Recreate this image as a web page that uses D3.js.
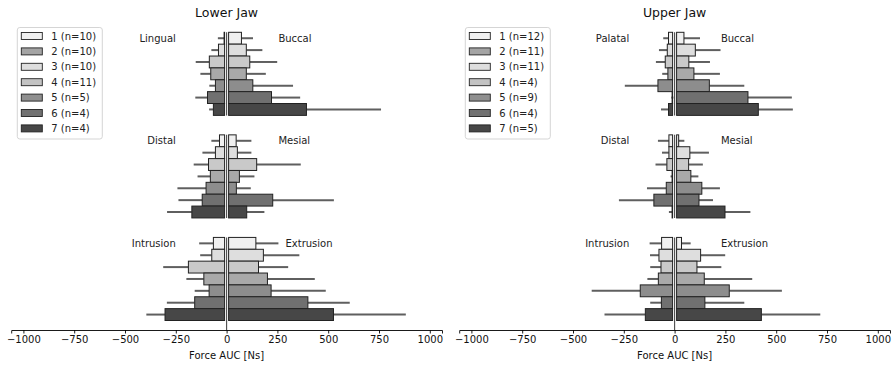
<!DOCTYPE html>
<html>
<head>
<meta charset="utf-8">
<script src="https://cdn.jsdelivr.net/npm/d3@7/dist/d3.min.js"></script>
<style>
  html, body { margin: 0; padding: 0; background: #fff; }
  svg { display: block; font-family: "DejaVu Sans", sans-serif; }
</style>
</head>
<body>
<svg id="chart" width="895" height="366"></svg>
<script>
// ---- data -------------------------------------------------------------
const categories = ["1", "2", "3", "4", "5", "6", "7"];
const lowerN = [10, 10, 10, 11, 5, 4, 4];
const upperN = [12, 11, 11, 4, 9, 4, 5];
const tickValues = [-1000, -750, -500, -250, 0, 250, 500, 750, 1000];

const lowerDirections = [["Lingual", "Buccal"], ["Distal", "Mesial"], ["Intrusion", "Extrusion"]];
const upperDirections = [["Palatal", "Buccal"], ["Distal", "Mesial"], ["Intrusion", "Extrusion"]];

// mean force AUC per category (negative side / positive side) and its SD
const lowerLingual      = [-12, -40, -85, -78, -55, -94, -65];
const lowerLingualSD    = [31, 35, 67, 51, 30, 60, 21];
const lowerBuccal       = [73, 97, 114, 97, 129, 221, 393];
const lowerBuccalSD     = [57, 79, 135, 96, 198, 141, 367];
const lowerDistal       = [-35, -55, -89, -80, -101, -120, -171];
const lowerDistalSD     = [40, 64, 73, 63, 141, 117, 122];
const lowerMesial       = [47, 53, 148, 63, 48, 227, 99];
const lowerMesialSD     = [75, 69, 217, 74, 71, 301, 87];
const lowerIntrusion    = [-65, -73, -188, -112, -86, -157, -303];
const lowerIntrusionSD  = [70, 57, 124, 86, 71, 137, 92];
const lowerExtrusion    = [144, 181, 157, 201, 219, 400, 526];
const lowerExtrusionSD  = [111, 177, 146, 233, 269, 206, 356];

const upperPalatal      = [-30, -36, -46, -33, -82, -6, -30];
const upperPalatalSD    = [26, 41, 46, 28, 163, 10, 37];
const upperBuccal       = [46, 102, 70, 95, 171, 361, 412];
const upperBuccalSD     = [79, 124, 104, 128, 172, 216, 170];
const upperDistal       = [-28, -28, -38, -8, -41, -102, -10];
const upperDistalSD     = [54, 34, 56, 12, 95, 172, 18];
const upperMesial       = [20, 75, 69, 80, 134, 120, 248];
const upperMesialSD     = [28, 94, 70, 37, 89, 69, 125];
const upperIntrusion    = [-64, -77, -67, -80, -169, -65, -144];
const upperIntrusionSD  = [59, 44, 53, 54, 239, 55, 201];
const upperExtrusion    = [34, 128, 110, 146, 269, 149, 427];
const upperExtrusionSD  = [45, 121, 120, 236, 259, 194, 290];

// ---- styles -----------------------------------------------------------
const barColors    = ["#f0f0f0", "#dedede", "#c9c9c9", "#a9a9a9", "#8d8d8d", "#707070", "#474747"];
const legendColors = ["#f0f0f0", "#a4a4a4", "#dedede", "#c3c3c3", "#8f8f8f", "#717171", "#474747"];

const svg = d3.select("#chart");
const pxPerUnit = 0.2032;
const halfDomain = 1060;
const axisY = 330;
const zeroGap = 2;

const groupY = d3.scaleBand().domain([0, 1, 2]).range([32.3, 320.5]).paddingInner(0.19);
const barY = d3.scaleBand().domain(categories).range([0, groupY.bandwidth()]).padding(0);

function drawPanel(cfg) {
  const x = d3.scaleLinear()
    .domain([-halfDomain, halfDomain])
    .range([cfg.zero - halfDomain * pxPerUnit, cfg.zero + halfDomain * pxPerUnit]);
  const x0 = x(0);
  const g = svg.append("g");

  // title
  g.append("text")
    .attr("x", x0).attr("y", 17)
    .attr("text-anchor", "middle")
    .attr("font-size", 12.5).attr("fill", "#111")
    .text(cfg.title);

  cfg.groups.forEach((grp, gi) => {
    const gy = groupY(gi);
    const rows = categories.map((c, i) => ({
      c, i,
      neg: grp.neg[i], negSD: grp.negSD[i],
      pos: grp.pos[i], posSD: grp.posSD[i]
    }));
    const gg = g.append("g").attr("transform", `translate(0,${gy})`);

    // zero line for this group (the last one runs down to the axis)
    const isLast = gi === cfg.groups.length - 1;
    gg.append("line")
      .attr("x1", x0).attr("x2", x0)
      .attr("y1", 0)
      .attr("y2", isLast ? axisY - gy : groupY.bandwidth())
      .attr("stroke", "#4a4a4a").attr("stroke-width", 1.1);

    // error whiskers (behind bars)
    gg.selectAll("line.eneg").data(rows).join("line")
      .attr("x1", d => x(d.neg)).attr("x2", d => x(d.neg - d.negSD))
      .attr("y1", d => barY(d.c) + barY.bandwidth() / 2)
      .attr("y2", d => barY(d.c) + barY.bandwidth() / 2)
      .attr("stroke", "#5f5f5f").attr("stroke-width", 2);
    gg.selectAll("line.epos").data(rows).join("line")
      .attr("x1", d => x(d.pos)).attr("x2", d => x(d.pos + d.posSD))
      .attr("y1", d => barY(d.c) + barY.bandwidth() / 2)
      .attr("y2", d => barY(d.c) + barY.bandwidth() / 2)
      .attr("stroke", "#5f5f5f").attr("stroke-width", 2);

    // negative-side bars
    gg.selectAll("rect.neg").data(rows).join("rect")
      .attr("x", d => Math.min(x(d.neg), x0 - zeroGap - 0.5))
      .attr("width", d => Math.max(0.5, x0 - zeroGap - x(d.neg)))
      .attr("y", d => barY(d.c))
      .attr("height", barY.bandwidth())
      .attr("fill", d => barColors[d.i])
      .attr("stroke", "#222").attr("stroke-width", 1);
    // positive-side bars
    gg.selectAll("rect.pos").data(rows).join("rect")
      .attr("x", x0 + zeroGap)
      .attr("width", d => Math.max(0.5, x(d.pos) - x0 - zeroGap))
      .attr("y", d => barY(d.c))
      .attr("height", barY.bandwidth())
      .attr("fill", d => barColors[d.i])
      .attr("stroke", "#222").attr("stroke-width", 1);

    // direction labels beside the first bar
    const ly = barY(categories[0]) + barY.bandwidth() / 2;
    gg.append("text")
      .attr("x", x(cfg.labelPos[gi][0])).attr("y", ly)
      .attr("dy", "0.35em").attr("text-anchor", "end")
      .attr("font-size", 10).attr("fill", "#222")
      .text(cfg.directions[gi][0]);
    gg.append("text")
      .attr("x", x(cfg.labelPos[gi][1])).attr("y", ly)
      .attr("dy", "0.35em").attr("text-anchor", "start")
      .attr("font-size", 10).attr("fill", "#222")
      .text(cfg.directions[gi][1]);
  });

  // x axis
  const ax = g.append("g")
    .attr("transform", `translate(0,${axisY})`)
    .call(d3.axisBottom(x).tickValues(tickValues).tickFormat(d3.format("d")).tickSizeOuter(0).tickSize(3.5).tickPadding(2.5));
  ax.select(".domain").attr("stroke", "#000").attr("stroke-width", 0.9);
  ax.selectAll(".tick line").attr("stroke", "#000").attr("stroke-width", 0.9);
  ax.selectAll(".tick text").attr("font-size", 10).attr("fill", "#111")
    .attr("font-family", "DejaVu Sans, sans-serif");

  g.append("text")
    .attr("x", x0).attr("y", 359)
    .attr("text-anchor", "middle")
    .attr("font-size", 10).attr("fill", "#111")
    .text("Force AUC [Ns]");

  // legend
  const lx = x0 - 209.3, ly0 = 27.5;
  const lg = g.append("g");
  lg.append("rect")
    .attr("x", lx).attr("y", ly0).attr("width", 85).attr("height", 111.5)
    .attr("rx", 2.5).attr("fill", "#fff").attr("stroke", "#d0d0d0").attr("stroke-width", 0.9);
  const ent = lg.selectAll("g.entry").data(categories).join("g")
    .attr("transform", (d, i) => `translate(${lx + 4},${ly0 + 8.5 + i * 15.4})`);
  ent.append("rect")
    .attr("x", 0).attr("y", -3.5).attr("width", 21).attr("height", 7)
    .attr("fill", (d, i) => legendColors[i])
    .attr("stroke", "#222").attr("stroke-width", 0.9);
  ent.append("text")
    .attr("x", 30).attr("y", 0).attr("dy", "0.35em")
    .attr("font-size", 10).attr("fill", "#222")
    .text((d, i) => `${d} (n=${cfg.n[i]})`);
}

drawPanel({
  title: "Lower Jaw",
  zero: 226.6,
  n: lowerN,
  directions: lowerDirections,
  labelPos: [[-250, 255], [-250, 255], [-250, 290]],
  groups: [
    { neg: lowerLingual, negSD: lowerLingualSD, pos: lowerBuccal, posSD: lowerBuccalSD },
    { neg: lowerDistal, negSD: lowerDistalSD, pos: lowerMesial, posSD: lowerMesialSD },
    { neg: lowerIntrusion, negSD: lowerIntrusionSD, pos: lowerExtrusion, posSD: lowerExtrusionSD }
  ]
});

drawPanel({
  title: "Upper Jaw",
  zero: 674.6,
  n: upperN,
  directions: upperDirections,
  labelPos: [[-223, 228], [-223, 228], [-223, 228]],
  groups: [
    { neg: upperPalatal, negSD: upperPalatalSD, pos: upperBuccal, posSD: upperBuccalSD },
    { neg: upperDistal, negSD: upperDistalSD, pos: upperMesial, posSD: upperMesialSD },
    { neg: upperIntrusion, negSD: upperIntrusionSD, pos: upperExtrusion, posSD: upperExtrusionSD }
  ]
});
</script>
</body>
</html>
